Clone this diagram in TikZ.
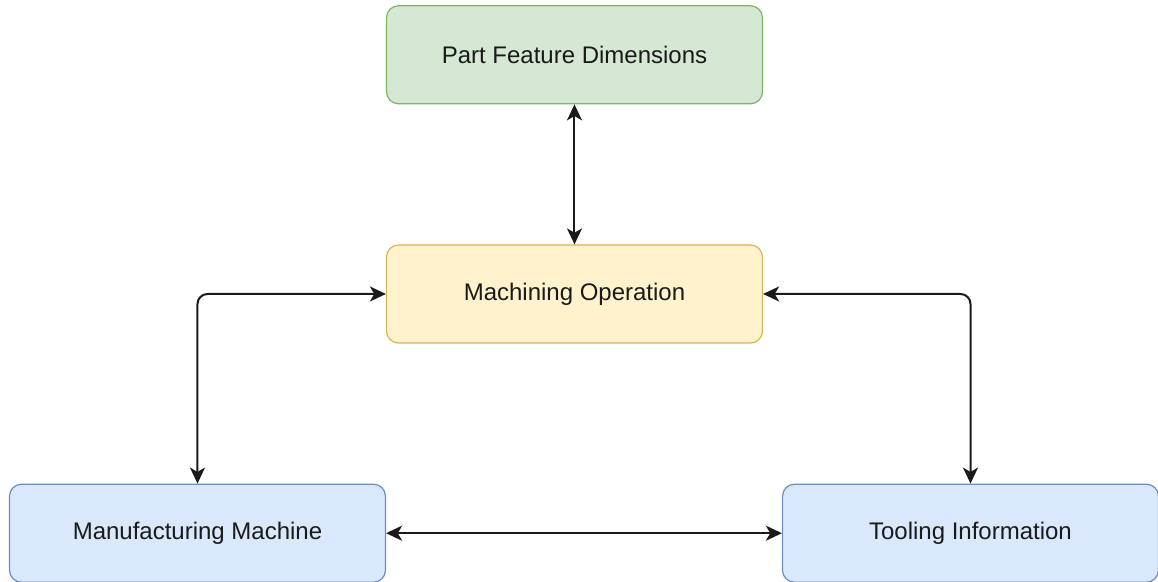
\documentclass[tikz,border=0pt]{standalone}
\usepackage{fontspec}
\setmainfont{Liberation Sans}
\usetikzlibrary{arrows.meta, positioning}
\definecolor{featfill}{HTML}{D5E8D4}
\definecolor{featdraw}{HTML}{82B366}
\definecolor{opfill}{HTML}{FFF2CC}
\definecolor{opdraw}{HTML}{D6B656}
\definecolor{resfill}{HTML}{DAE8FC}
\definecolor{resdraw}{HTML}{6C8EBF}
\definecolor{inkdark}{HTML}{1A1A1A}

\begin{document}
\begin{tikzpicture}[
  font=\fontsize{12pt}{14pt}\selectfont,
  node distance = 70pt and 99pt,
  block/.style={draw, rounded corners=6pt, align=center,
                minimum height=49pt, minimum width=188pt,
                text=inkdark, line width=0.6pt},
  featblock/.style={block, fill=featfill, draw=featdraw},
  opblock/.style={block, fill=opfill, draw=opdraw},
  resblock/.style={block, fill=resfill, draw=resdraw},
  biarrow/.style={{Stealth[length=8pt, width=7.5pt, inset=2.2pt]}-{Stealth[length=8pt, width=7.5pt, inset=2.2pt]},
                  line width=1pt, draw=inkdark, rounded corners=5pt}
]
\useasboundingbox (-287.25pt,-144pt) rectangle (291.75pt,147pt);

% ---------------- Nodes ----------------
\node[opblock] (mach) {Machining Operation};
\node[featblock, above=of mach] (feat) {Part Feature Dimensions};

\node[resblock, below=70pt of mach, xshift=-188.5pt] (manu) {Manufacturing Machine};
\node[resblock, below=70pt of mach, xshift=198pt] (tool) {Tooling Information};

% ---------------- Arrows ----------------
\draw[biarrow] (feat) -- (mach);
\draw[biarrow] (mach.west) -| (manu.north);
\draw[biarrow] (mach.east) -| (tool.north);
\draw[biarrow] (manu) -- (tool);

\end{tikzpicture}
\end{document}
